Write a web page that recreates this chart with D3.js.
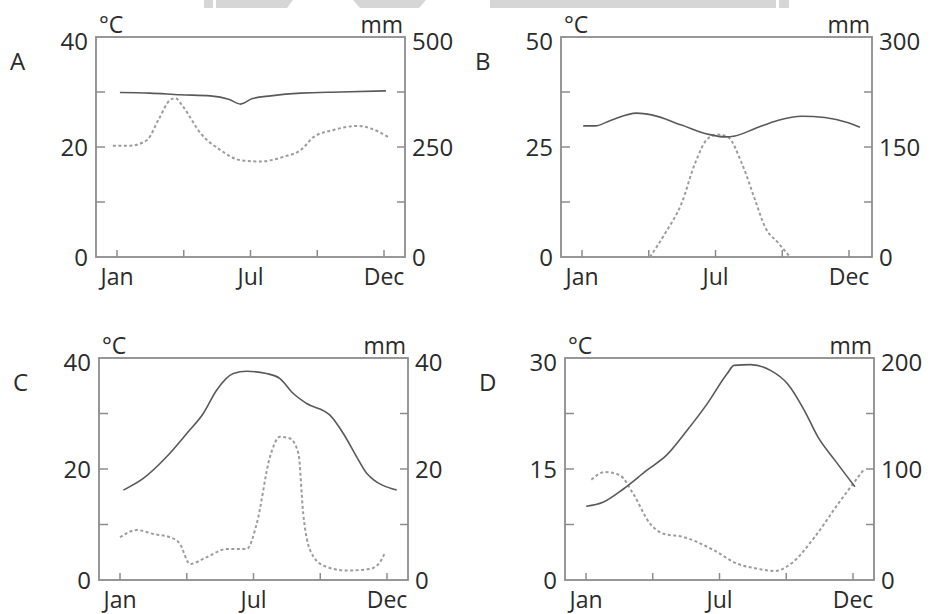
<!DOCTYPE html>
<html>
<head>
<meta charset="utf-8">
<script src="https://cdn.jsdelivr.net/npm/d3@7"></script>
<style>
  body { margin: 0; background: #fff; }
  svg text { font-family: "Open Sans", "Noto Sans", sans-serif; fill: #2b2b2b; }
</style>
</head>
<body>
<svg id="chart" width="931" height="614"></svg>
<script>
// month ticks (equally spaced on the drawing, labels only at Jan / Jul / Dec)
let monthTicks = [1, 3.75, 6.5, 9.25, 12];
let monthLabels = ["Jan", "", "Jul", "", "Dec"];

// A
let tempMonthsA = [1.12, 2.36, 3.6, 4.85, 5.6, 6.09, 6.58, 7.33, 8.57, 10.2, 12.08];
let tempA = [29.9, 29.8, 29.5, 29.3, 28.7, 27.8, 28.8, 29.3, 29.8, 30.0, 30.2];
let rainMonthsA = [0.83, 1.54, 2.24, 2.7, 3.19, 3.4, 3.73, 4.43, 5.26, 6.09, 6.91, 7.87, 8.57, 9.11, 9.94, 10.93, 11.46, 12.17];
let rainA = [253, 253, 266, 311, 357, 361, 341, 282, 243, 220, 217, 228, 243, 273, 289, 298, 292, 273];

// B
let tempMonthsB = [1.05, 1.54, 2.2, 3.25, 3.87, 5.1, 6.2, 6.9, 7.3, 8.13, 9.09, 10.05, 11.0, 11.97, 12.45];
let tempB = [29.8, 29.8, 31.1, 32.7, 32.3, 30.0, 27.9, 27.3, 27.5, 29.2, 31.1, 32.0, 31.7, 30.5, 29.5];
let rainMonthsB = [3.8, 4.42, 5.1, 5.66, 6.2, 6.62, 7.03, 7.58, 8.13, 8.54, 9.09, 9.57];
let rainB = [0, 32, 73, 128, 162, 167, 163, 128, 78, 41, 19, 0];

// C
let tempMonthsC = [1.14, 1.96, 2.92, 3.75, 4.43, 4.98, 5.67, 6.22, 7.04, 7.59, 8.14, 8.69, 9.65, 10.2, 10.75, 11.17, 12.4];
let tempC = [16.2, 18.3, 22.2, 26.4, 30.0, 34.2, 37.2, 37.6, 37.2, 36.3, 33.6, 31.8, 29.7, 26.4, 22.2, 19.2, 16.2];
let rainMonthsC = [1.0, 1.69, 2.37, 3.06, 3.47, 3.88, 4.57, 5.4, 6.22, 6.63, 7.18, 7.59, 8.0, 8.35, 8.55, 8.83, 9.38, 10.34, 11.3, 11.71, 11.92];
let rainC = [7.7, 9.0, 8.3, 7.7, 6.5, 2.9, 4.1, 5.6, 5.6, 10.1, 22.2, 25.8, 25.5, 22.8, 11.9, 5.4, 2.6, 1.7, 2.0, 3.2, 5.0];

// D
let tempMonthsD = [1.01, 1.7, 2.54, 3.5, 4.33, 5.16, 5.99, 6.82, 7.1, 7.79, 8.62, 9.31, 10.0, 10.56, 11.25, 12.08];
let tempD = [9.96, 10.5, 12.3, 14.8, 16.9, 20.2, 23.8, 27.9, 29.0, 29.1, 28.3, 26.5, 22.9, 19.3, 16.2, 12.6];
let rainMonthsD = [1.22, 1.78, 2.4, 2.95, 3.64, 4.19, 5.02, 6.27, 7.23, 8.06, 8.76, 9.45, 10.42, 11.39, 12.42];
let rainD = [90.4, 97.3, 94.3, 77.5, 50.7, 41.7, 38.7, 26.8, 14.7, 10.2, 8.1, 14.7, 38.7, 68.7, 98.8];

// axis maxima
let panelNames = ["A", "B", "C", "D"];
let tempMax = [40, 50, 40, 30];
let rainMax = [500, 300, 40, 200];

let svg = d3.select("#chart");

// light grey banner remains at the very top of the scan
let banner = svg.append("g").attr("fill", "#d6d6d6");
banner.append("rect").attr("x", 204).attr("y", 0).attr("width", 9).attr("height", 8);
banner.append("polygon").attr("points", "216,0 293,0 287,8 216,8");
banner.append("polygon").attr("points", "353,0 426,0 419,8 360,8");
banner.append("rect").attr("x", 490).attr("y", 0).attr("width", 286).attr("height", 8);
banner.append("rect").attr("x", 779).attr("y", 0).attr("width", 10).attr("height", 8);

let boxes = [
  {left: 96, top: 37, w: 309, h: 220},
  {left: 561, top: 37, w: 311, h: 220},
  {left: 99, top: 358, w: 309, h: 222},
  {left: 565, top: 358, w: 309, h: 222}
];

let temps = [[tempMonthsA, tempA], [tempMonthsB, tempB], [tempMonthsC, tempC], [tempMonthsD, tempD]];
let rains = [[rainMonthsA, rainA], [rainMonthsB, rainB], [rainMonthsC, rainC], [rainMonthsD, rainD]];

function draw_panel(i) {
  let b = boxes[i];
  let g = svg.append("g").attr("transform", "translate(" + b.left + "," + b.top + ")");

  let x = d3.scaleLinear().domain([1, 12]).range([21, 288]);
  let yT = d3.scaleLinear().domain([0, tempMax[i]]).range([b.h, 0]);
  let yR = d3.scaleLinear().domain([0, rainMax[i]]).range([b.h, 0]);

  let tTicks = [0, tempMax[i] / 2, tempMax[i]];
  let rTicks = [0, rainMax[i] / 2, rainMax[i]];
  let quarter = [0.25, 0.5, 0.75];

  // inner tick marks
  let ticks = g.append("g").attr("stroke", "#8c8c8c").attr("stroke-width", 1.5);
  quarter.forEach(q => {
    let yy = yT(tempMax[i] * q);
    ticks.append("line").attr("x1", 0).attr("x2", 9).attr("y1", yy).attr("y2", yy);
    ticks.append("line").attr("x1", b.w - 8).attr("x2", b.w).attr("y1", yy).attr("y2", yy);
  });
  monthTicks.forEach(m => {
    ticks.append("line").attr("x1", x(m)).attr("x2", x(m)).attr("y1", b.h).attr("y2", b.h - 7);
  });

  // frame
  g.append("rect").attr("x", 0).attr("y", 0).attr("width", b.w).attr("height", b.h)
    .attr("fill", "none").attr("stroke", "#8c8c8c").attr("stroke-width", 1.8);

  // left labels
  g.selectAll(".tl").data(tTicks).enter().append("text")
    .attr("x", -8).attr("y", d => yT(d) + (d == tempMax[i] ? 5 : 1))
    .attr("dy", "0.35em").attr("text-anchor", "end").attr("font-size", 24)
    .text(d => d);
  // right labels
  g.selectAll(".tr").data(rTicks).enter().append("text")
    .attr("x", b.w + 7).attr("y", d => yR(d) + (d == rainMax[i] ? 5 : 1))
    .attr("dy", "0.35em").attr("text-anchor", "start").attr("font-size", 24)
    .text(d => d);
  // month labels
  g.selectAll(".ml").data(monthTicks).enter().append("text")
    .attr("x", d => x(d)).attr("y", b.h + 28)
    .attr("text-anchor", "middle").attr("font-size", 23)
    .text((d, k) => monthLabels[k]);

  g.append("text").attr("x", 3).attr("y", -4).attr("font-size", 23).text("°C");
  g.append("text").attr("x", b.w - 2).attr("y", -4).attr("text-anchor", "end").attr("font-size", 23).text("mm");
  g.append("text").attr("x", -86).attr("y", 33).attr("font-size", 24).text(panelNames[i]);

  let tData = temps[i][0].map((m, k) => [m, temps[i][1][k]]);
  let rData = rains[i][0].map((m, k) => [m, rains[i][1][k]]);

  let lineT = d3.line().x(d => x(d[0])).y(d => yT(d[1])).curve(d3.curveMonotoneX);
  let lineR = d3.line().x(d => x(d[0])).y(d => yR(d[1])).curve(d3.curveMonotoneX);

  g.append("path").attr("d", lineR(rData)).attr("fill", "none")
    .attr("stroke", "#9c9c9c").attr("stroke-width", 2).attr("stroke-dasharray", "3,2.5");
  g.append("path").attr("d", lineT(tData)).attr("fill", "none")
    .attr("stroke", "#595959").attr("stroke-width", 1.6);
}

for (let i = 0; i < 4; i++) draw_panel(i);
</script>
</body>
</html>
